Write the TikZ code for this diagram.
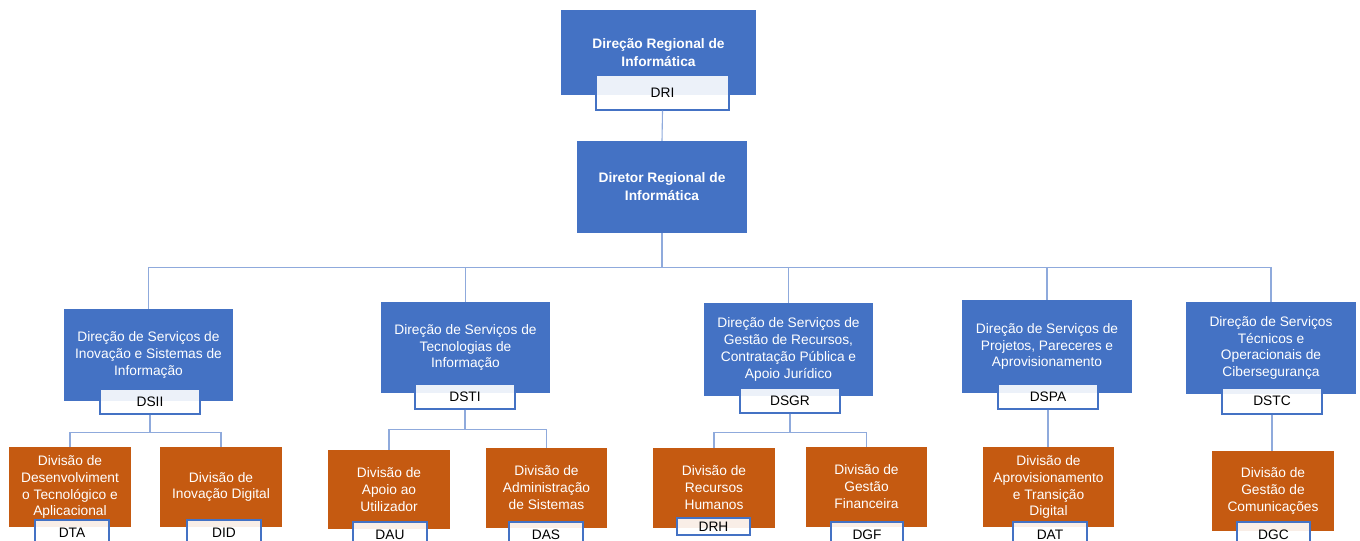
\documentclass[tikz,border=0pt]{standalone}
\usepackage{fontspec}
\setmainfont{Liberation Sans}
\definecolor{cblue}{RGB}{68,114,196}
\definecolor{corange}{RGB}{197,90,17}
\definecolor{cline}{RGB}{143,170,220}
\begin{document}
\begin{tikzpicture}[x=1bp,y=-1bp,
 box/.style 2 args={minimum width=#1bp, minimum height=#2bp, inner sep=0pt, align=center, draw=none, text=white},
 bluebox/.style={fill=cblue},
 orbox/.style={fill=corange},
 boldtxt/.style={font=\fontsize{13.8}{18}\selectfont\bfseries},
 lbl/.style 2 args={minimum width=#1bp, minimum height=#2bp, inner sep=0pt, draw=cblue, line width=1.2bp, fill=white, fill opacity=0.9, text opacity=1, text=black},
 conn/.style={draw=cline, line width=1.1bp},
 font=\fontsize{13.8}{17}\selectfont]
\useasboundingbox (0,0) rectangle (1360,541);
\clip (0,0) rectangle (1360,541);

% top
\node[box={195}{85}, bluebox, boldtxt] (dri) at (658.5,52.5) {Direção Regional de\\Informática};
\node[lbl={133}{35}] (dril) at (662.5,92.5) {DRI};
\node[box={170}{92}, bluebox, boldtxt] (dir) at (662,187) {Diretor Regional de\\Informática};

% level 3
\node[box={169}{92},bluebox] (dsii) at (148.5,355) {Direção de Serviços de\\Inovação e Sistemas de\\Informação};
\node[lbl={100}{25}] (dsiil) at (150,401.5) {DSII};
\node[box={169}{91},bluebox] (dsti) at (465.5,347.5) {Direção de Serviços de\\Tecnologias de\\Informação};
\node[lbl={100}{25}] (dstil) at (465,396.5) {DSTI};
\node[box={169}{93},bluebox] (dsgr) at (788.5,349.5) {Direção de Serviços de\\Gestão de Recursos,\\Contratação Pública e\\Apoio Jurídico};
\node[lbl={100}{25}] (dsgrl) at (790,400.5) {DSGR};
\node[box={170}{93},bluebox] (dspa) at (1047,346.5) {Direção de Serviços de\\Projetos, Pareceres e\\Aprovisionamento};
\node[lbl={100}{25}] (dspal) at (1048,396.5) {DSPA};
\node[box={170}{92},bluebox] (dstc) at (1271,348) {Direção de Serviços\\Técnicos e\\Operacionais de\\Cibersegurança};
\node[lbl={100}{26}] (dstcl) at (1272,401) {DSTC};

% level 4
\node[box={122}{80},orbox] (dta) at (70,487) {Divisão de\\Desenvolviment\\o Tecnológico e\\Aplicacional};
\node[lbl={74}{25}] (dtal) at (72,532.5) {DTA};
\node[box={122}{80},orbox] (did) at (221,487) {Divisão de\\Inovação Digital};
\node[lbl={74}{25}] (didl) at (224,532.5) {DID};
\node[box={122}{79},orbox] (dau) at (389,489.5) {Divisão de\\Apoio ao\\Utilizador};
\node[lbl={74}{25}] (daul) at (390,534.5) {DAU};
\node[box={121}{80},orbox] (das) at (546.5,488) {Divisão de\\Administração\\de Sistemas};
\node[lbl={74}{25}] (dasl) at (546,534.5) {DAS};
\node[box={122}{80},orbox] (drh) at (714,488) {Divisão de\\Recursos\\Humanos};
\node[lbl={73}{17}] (drhl) at (713.5,526.5) {DRH};
\node[box={121}{80},orbox] (dgf) at (866.5,487) {Divisão de\\Gestão\\Financeira};
\node[lbl={72}{25}] (dgfl) at (867,534.5) {DGF};
\node[box={131}{80},orbox] (dat) at (1048.5,487) {Divisão de\\Aprovisionamento\\e Transição\\Digital};
\node[lbl={74}{25}] (datl) at (1050,534.5) {DAT};
\node[box={122}{80},orbox] (dgc) at (1273,491) {Divisão de\\Gestão de\\Comunicações};
\node[lbl={73}{25}] (dgcl) at (1273.5,534.5) {DGC};

% connectors
\draw[conn] (dril.south) -- (dir.north);
\foreach \c in {dsii,dsti,dsgr,dspa,dstc}
  \draw[conn] (dir.south) -- ++(0,34) -| (\c.north);
\draw[conn] (dsiil.south) -- ++(0,18) -| (dta.north);
\draw[conn] (dsiil.south) -- ++(0,18) -| (did.north);
\draw[conn] (dstil.south) -- ++(0,20) -| (dau.north);
\draw[conn] (dstil.south) -- ++(0,20) -| (das.north);
\draw[conn] (dsgrl.south) -- ++(0,19) -| (drh.north);
\draw[conn] (dsgrl.south) -- ++(0,19) -| (dgf.north);
\draw[conn] (dspal.south) -- (dspal.south |- dat.north);
\draw[conn] (dstcl.south) -- (dstcl.south |- dgc.north);
\end{tikzpicture}
\end{document}
